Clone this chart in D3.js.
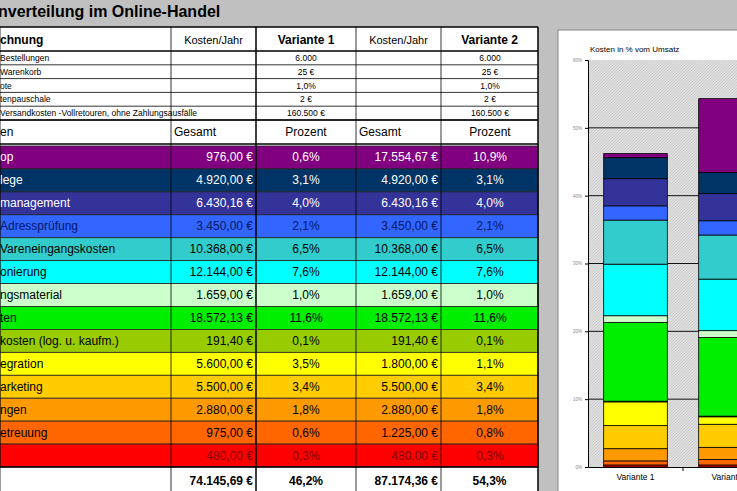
<!DOCTYPE html>
<html><head><meta charset="utf-8">
<script src="https://cdn.jsdelivr.net/npm/d3@7"></script>
<style>body{margin:0;background:#c0c0c0}svg{display:block;font-family:Arial,"Liberation Sans",sans-serif}</style>
</head><body><div id="chart"></div>
<script>
// cost positions (labels are cut off at the left like in the screenshot)
const categories = ["op", "lege", "management", "Adressprüfung", "Vareneingangskosten", "onierung", "ngsmaterial",
  "ten", "kosten (log. u. kaufm.)", "egration", "arketing", "ngen", "etreuung", ""];
const colors = ["#800080", "#003366", "#333399", "#3366ff", "#33cccc", "#00ffff", "#ccffcc",
  "#00ee00", "#99cc00", "#ffff00", "#ffcc00", "#ff9900", "#ff6600", "#ff0000"];
const textColors = ["#fff", "#fff", "#fff", "#001a66", "#000", "#000", "#000", "#000", "#000", "#000", "#000", "#000", "#000", "#800000"];
const kosten1 = ["976,00 €", "4.920,00 €", "6.430,16 €", "3.450,00 €", "10.368,00 €", "12.144,00 €", "1.659,00 €",
  "18.572,13 €", "191,40 €", "5.600,00 €", "5.500,00 €", "2.880,00 €", "975,00 €", "480,00 €"];
const kosten2 = ["17.554,67 €", "4.920,00 €", "6.430,16 €", "3.450,00 €", "10.368,00 €", "12.144,00 €", "1.659,00 €",
  "18.572,13 €", "191,40 €", "1.800,00 €", "5.500,00 €", "2.880,00 €", "1.225,00 €", "480,00 €"];
const prozent1 = [0.6, 3.1, 4.0, 2.1, 6.5, 7.6, 1.0, 11.6, 0.1, 3.5, 3.4, 1.8, 0.6, 0.3];
const prozent2 = [10.9, 3.1, 4.0, 2.1, 6.5, 7.6, 1.0, 11.6, 0.1, 1.1, 3.4, 1.8, 0.8, 0.3];
const totals = ["74.145,69 €", "46,2%", "87.174,36 €", "54,3%"];
const paramLabels = ["Bestellungen", "Warenkorb", "ote", "tenpauschale", " Versandkosten -Vollretouren, ohne Zahlungsausfälle"];
const paramValues = ["6.000", "25 €", "1,0%", "2 €", "160.500 €"];
const variants = ["Variante 1", "Variante 2"];
const yTicks = [0, 10, 20, 30, 40, 50, 60];

const fmt = v => v.toFixed(1).replace(".", ",") + "%";
const W = 737, H = 491;
const svg = d3.select("#chart").append("svg").attr("width", W).attr("height", H);
svg.append("rect").attr("width", W).attr("height", H).attr("fill", "#c0c0c0");

// title
svg.append("text").attr("x", -2).attr("y", 17).attr("font-size", 16).attr("font-weight", "bold").text("nverteilung im Online-Handel");

// table columns
const cols = [0, 171, 256, 356, 441, 538];
const tbl = svg.append("g");
tbl.append("rect").attr("x", 0).attr("y", 27).attr("width", 538).attr("height", 464).attr("fill", "#fff");

// header
const hdr = tbl.append("g").attr("font-size", 11);
hdr.append("text").attr("x", 0).attr("y", 44).attr("font-weight", "bold").attr("font-size", 12).text("chnung");
[["Kosten/Jahr", 1, false], ["Variante 1", 2, true], ["Kosten/Jahr", 3, false], ["Variante 2", 4, true]].forEach(([t, i, b]) => {
  hdr.append("text").attr("x", (cols[i] + cols[i + 1]) / 2).attr("y", 44).attr("text-anchor", "middle")
    .attr("font-weight", b ? "bold" : null).attr("font-size", b ? 12 : 11).text(t);
});

// parameter rows
const pY = d3.scaleBand().domain(d3.range(paramLabels.length)).range([51, 120]);
paramLabels.forEach((l, i) => {
  const y = pY(i) + pY.bandwidth() / 2 + 3;
  tbl.append("text").attr("x", 0).attr("y", y).attr("font-size", 8.5).text(l);
  tbl.append("text").attr("x", 306).attr("y", y).attr("font-size", 8.5).attr("text-anchor", "middle").text(paramValues[i]);
  tbl.append("text").attr("x", 490).attr("y", y).attr("font-size", 8.5).attr("text-anchor", "middle").text(paramValues[i]);
  tbl.append("line").attr("x1", 0).attr("x2", 538).attr("y1", pY(i) + pY.bandwidth()).attr("y2", pY(i) + pY.bandwidth()).attr("stroke", "#000").attr("stroke-width", 0.8);
});
tbl.append("line").attr("x1", 0).attr("x2", 538).attr("y1", 51).attr("y2", 51).attr("stroke", "#000").attr("stroke-width", 1.5);

// sub header
const sh = tbl.append("g").attr("font-size", 12);
sh.append("text").attr("x", 0).attr("y", 136).text("en");
sh.append("text").attr("x", 174).attr("y", 136).text("Gesamt");
sh.append("text").attr("x", 306).attr("y", 136).attr("text-anchor", "middle").text("Prozent");
sh.append("text").attr("x", 359).attr("y", 136).text("Gesamt");
sh.append("text").attr("x", 490).attr("y", 136).attr("text-anchor", "middle").text("Prozent");

// colored rows
const rY = d3.scaleBand().domain(categories.map((c, i) => i)).range([146, 467]);
const rows = tbl.selectAll(".row").data(categories).enter().append("g").attr("class", "row")
  .attr("transform", (d, i) => `translate(0,${rY(i)})`);
rows.append("rect").attr("width", 538).attr("height", rY.bandwidth()).attr("fill", (d, i) => colors[i]).attr("stroke", "#222").attr("stroke-width", 0.8);
const rh = rY.bandwidth() / 2 + 4;
rows.attr("font-size", 12).attr("fill", (d, i) => textColors[i]);
rows.append("text").attr("x", 0).attr("y", rh).text(d => d);
rows.append("text").attr("x", 253).attr("y", rh).attr("text-anchor", "end").text((d, i) => kosten1[i]);
rows.append("text").attr("x", 306).attr("y", rh).attr("text-anchor", "middle").text((d, i) => fmt(prozent1[i]));
rows.append("text").attr("x", 438).attr("y", rh).attr("text-anchor", "end").text((d, i) => kosten2[i]);
rows.append("text").attr("x", 490).attr("y", rh).attr("text-anchor", "middle").text((d, i) => fmt(prozent2[i]));

// totals
tbl.selectAll(".tot").data(totals).enter().append("text")
  .attr("x", (d, i) => i % 2 ? (cols[i + 1] + cols[i + 2]) / 2 : cols[i + 2] - 3)
  .attr("text-anchor", (d, i) => i % 2 ? "middle" : "end")
  .attr("y", 485).attr("font-size", 12).attr("font-weight", "bold").text(d => d);

// grid lines of table
cols.forEach((x, i) => tbl.append("line").attr("x1", x).attr("x2", x).attr("y1", 27).attr("y2", 491)
  .attr("stroke", "#000").attr("stroke-width", i === 2 || i === 5 ? 1.5 : 0.8));
[27, 120, 144, 467].forEach(y => tbl.append("line").attr("x1", 0).attr("x2", 538).attr("y1", y).attr("y2", y).attr("stroke", "#000").attr("stroke-width", 1.5));

// chart panel
const cp = svg.append("g");
cp.append("rect").attr("x", 558).attr("y", 30).attr("width", 190).attr("height", 470).attr("fill", "#fff").attr("stroke", "#888");
const defs = svg.append("defs");
const pat = defs.append("pattern").attr("id", "hatch").attr("width", 3).attr("height", 3).attr("patternUnits", "userSpaceOnUse");
pat.append("rect").attr("width", 3).attr("height", 3).attr("fill", "#dedede");
pat.append("path").attr("d", "M0,3 L3,0").attr("stroke", "#c8c8c8").attr("stroke-width", 0.8);

const y = d3.scaleLinear().domain([0, 60]).range([467, 60]);
const x = d3.scaleBand().domain(variants).range([588, 778]).paddingInner(0.33).paddingOuter(0.165);
cp.append("rect").attr("x", 588).attr("y", y(60)).attr("width", 160).attr("height", y(0) - y(60)).attr("fill", "url(#hatch)");
cp.selectAll(".grid").data(yTicks.slice(1, -1)).enter().append("line")
  .attr("x1", 588).attr("x2", 737).attr("y1", d => y(d)).attr("y2", d => y(d)).attr("stroke", "#111").attr("stroke-width", 1);
cp.append("text").attr("x", 590).attr("y", 52).attr("font-size", 8).text("Kosten in % vom Umsatz");

const yAxis = cp.append("g").attr("transform", "translate(588,0)")
  .call(d3.axisLeft(y).tickValues(yTicks).tickFormat(d => d + "%").tickSize(3));
yAxis.selectAll("text").attr("font-size", 4.5).attr("fill", "#888");
const xAxis = cp.append("g").attr("transform", `translate(0,${y(0)})`)
  .call(d3.axisBottom(x).tickSize(0));
xAxis.selectAll("text").attr("font-size", 8.5).attr("dy", 10);
cp.append("line").attr("x1", 683).attr("x2", 683).attr("y1", y(0)).attr("y2", y(0) + 4).attr("stroke", "#000");

// stacked bars (last table row at the bottom)
const stackRows = categories.map((c, i) => ({ key: i, v1: prozent1[i], v2: prozent2[i] })).reverse();
[prozent1, prozent2].forEach((vals, vi) => {
  let acc = 0;
  const segs = stackRows.map(r => { const v = vi ? r.v2 : r.v1; const s = { i: r.key, y0: acc, y1: acc + v }; acc += v; return s; });
  cp.selectAll(".bar" + vi).data(segs).enter().append("rect")
    .attr("x", x(variants[vi])).attr("width", x.bandwidth())
    .attr("y", d => y(d.y1)).attr("height", d => y(d.y0) - y(d.y1))
    .attr("fill", d => colors[d.i]).attr("stroke", "#000").attr("stroke-width", 0.8);
});
</script></body></html>
